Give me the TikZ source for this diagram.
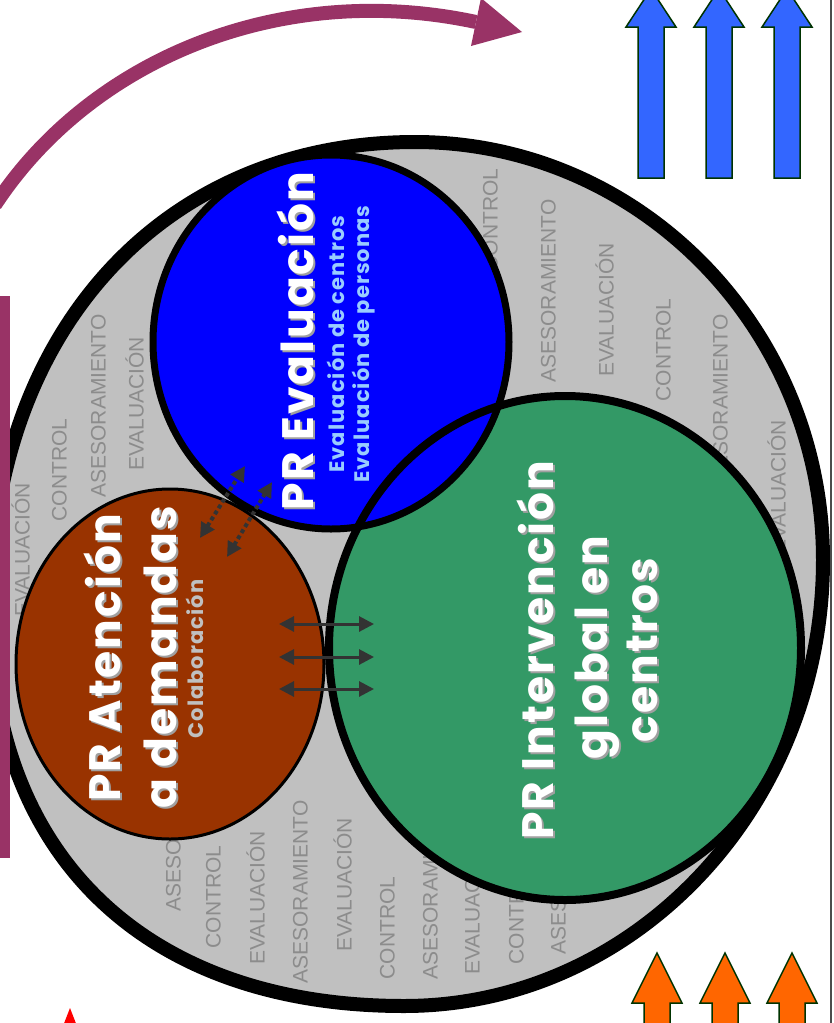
\documentclass[tikz,border=0pt]{standalone}
\usepackage{fontspec}
\setmainfont{Poppins}
\newfontfamily\titlefont{Poppins}[LetterSpace=4.5]
\newfontfamily\subfont{Poppins}[LetterSpace=5]
\newfontfamily\wordfont{Liberation Sans}
\usetikzlibrary{arrows.meta}

\definecolor{ringgray}{HTML}{C0C0C0}
\definecolor{wordgray}{HTML}{8C8C8C}
\definecolor{evalblue}{HTML}{0000FF}
\definecolor{atenbrown}{HTML}{993300}
\definecolor{intergreen}{HTML}{339966}
\definecolor{subblue}{HTML}{99CCFF}
\definecolor{subgray}{HTML}{C0C0C0}
\definecolor{plum}{HTML}{993366}
\definecolor{upblue}{HTML}{3366FF}
\definecolor{uporange}{HTML}{FF6600}
\definecolor{arrowedge}{HTML}{003300}
\definecolor{linkgray}{HTML}{333333}
\definecolor{shadegray}{HTML}{A0A0A0}

\tikzset{
  word/.style={rotate=90,text=wordgray,inner sep=0pt,text height=15pt,text depth=0pt,
    font=\wordfont\fontsize{21}{21}\selectfont},
  title/.style={rotate=90,text=white,inner sep=0pt,anchor=base,
    font=\titlefont\bfseries\fontsize{44}{44}\selectfont},
  titleshade/.style={title,text=shadegray},
  subtitle/.style={rotate=90,inner sep=0pt,anchor=base,
    font=\subfont\bfseries\fontsize{21}{21}\selectfont},
  bigarrow/.style={draw=arrowedge,line width=1.5pt},
  link/.style={linkgray,line width=3pt,
    {Triangle[length=15pt,width=15pt]}-{Triangle[length=15pt,width=15pt]}},
  dottedlink/.style={link,line width=4pt,dash pattern=on 4pt off 3pt},
}

\begin{document}
\begin{tikzpicture}[x=1pt,y=-1pt]
  \useasboundingbox (0,0) rectangle (834,1023);

  % outer ring
  \filldraw[fill=ringgray,draw=black,line width=14pt]
    (415,142) .. controls (640,142) and (823,329) .. (823,560)
    .. controls (823,806) and (635,1006) .. (404,1006)
    .. controls (149,1006) and (-10,859) .. (-10,610)
    .. controls (-10,329) and (165,142) .. (415,142) -- cycle;

  \foreach \wx/\wy/\wtext [count=\i] in {
      22/550/EVALUACIÓN, 59/470/CONTROL, 98/406/ASESORAMIENTO, 136/404/EVALUACIÓN,
      490/220/CONTROL, 548/291/ASESORAMIENTO, 606/310/EVALUACIÓN, 663/350/CONTROL,
      720/406/ASESORAMIENTO, 778/487/EVALUACIÓN,
      173/820/ASESORAMIENTO, 213/897/CONTROL, 257/898/EVALUACIÓN, 300/892/ASESORAMIENTO,
      344/885/EVALUACIÓN, 387/928/CONTROL, 430/888/ASESORAMIENTO, 472/908/EVALUACIÓN,
      516/913/CONTROL, 558/863/ASESORAMIENTO}
    \node[word] (word\i) at (\wx,\wy) {\wtext};

  % the three programmes
  \filldraw[fill=atenbrown,draw=black,line width=3pt]
    (170,664) ellipse [x radius=154pt,y radius=175pt];
  \fill[intergreen] (565,648) ellipse [x radius=236pt,y radius=252pt];
  \fill[evalblue] (331,342) ellipse [x radius=178pt,y radius=187pt];
  \draw[line width=8pt] (565,648) ellipse [x radius=236pt,y radius=252pt];
  \draw[line width=7pt] (331,342) ellipse [x radius=178pt,y radius=187pt];

  \node[titleshade] at (315,343) {PR Evaluación};
  \node[title] (evaltitle) at (313,341) {PR Evaluación};
  \node[subtitle,text=subblue] (evalsub1) at (344,344) {Evaluación de centros};
  \node[subtitle,text=subblue] (evalsub2) at (369,344) {Evaluación de personas};

  \node[titleshade] at (122,660) {PR Atención};
  \node[title] (atentitle) at (120,658) {PR Atención};
  \node[titleshade] at (178,659) {a demandas};
  \node[title] (atentitle2) at (176,657) {a demandas};
  \node[subtitle,text=subgray] (atensub) at (203,659) {Colaboración};

  \node[titleshade] at (555,652) {PR Intervención};
  \node[title] (intertitle) at (553,650) {PR Intervención};
  \node[titleshade] at (609,650) {global en};
  \node[title] (intertitle2) at (607,648) {global en};
  \node[titleshade] at (659,652) {centros};
  \node[title] (intertitle3) at (657,650) {centros};

  % links between programmes
  \coordinate (d1a) at (200,538);
  \coordinate (d1b) at (245,466);
  \coordinate (d2a) at (227,557);
  \coordinate (d2b) at (272,482);
  \draw[dottedlink] (d1a) -- (d1b);
  \draw[dottedlink] (d2a) -- (d2b);
  \foreach \ly [count=\i] in {624,657,689} {
    \coordinate (la\i) at (279,\ly);
    \coordinate (lb\i) at (374,\ly);
    \draw[link] (la\i) -- (lb\i);
  }

  % plum arc and bar
  \draw[plum,line width=14pt] (-5,205) .. controls (90,60) and (280,-20) .. (476,22);
  \fill[plum] (481,-2) -- (522,32) -- (471,46) -- cycle;
  \fill[plum] (0,296) rectangle (10,858);

  % up arrows
  \foreach \cx in {651,719,787}
    \filldraw[bigarrow,fill=upblue] (\cx-13,178) -- (\cx-13,27) -- (\cx-25,27) -- (\cx,-11)
      -- (\cx+25,27) -- (\cx+13,27) -- (\cx+13,178) -- cycle;
  \foreach \cx in {657,725,792}
    \filldraw[bigarrow,fill=uporange] (\cx-13,1030) -- (\cx-13,1003) -- (\cx-25,1003) -- (\cx,953)
      -- (\cx+25,1003) -- (\cx+13,1003) -- (\cx+13,1030) -- cycle;

  \fill[red] (63,1026) -- (70,1008) -- (77,1026) -- cycle;
  \draw[line width=2pt,black!70] (831,0) -- (831,1023);
\end{tikzpicture}
\end{document}
